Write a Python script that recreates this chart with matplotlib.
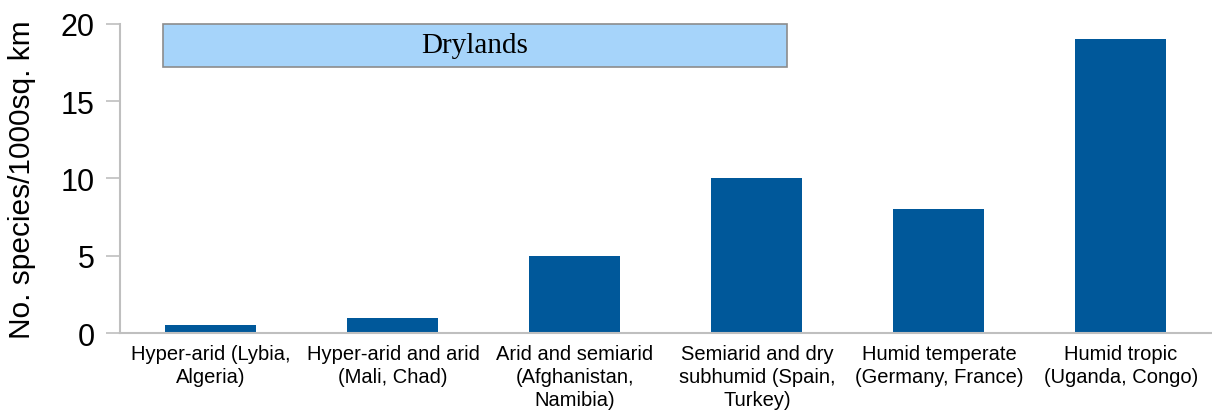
import matplotlib.pyplot as plt
from matplotlib.patches import Rectangle

categories = [
    "Hyper-arid (Lybia,\nAlgeria)",
    "Hyper-arid and arid\n(Mali, Chad)",
    "Arid and semiarid\n(Afghanistan,\nNamibia)",
    "Semiarid and dry\nsubhumid (Spain,\nTurkey)",
    "Humid temperate\n(Germany, France)",
    "Humid tropic\n(Uganda, Congo)",
]
species = [0.5, 1, 5, 10, 8, 19]

plt.rcParams["font.family"] = ["Liberation Sans", "DejaVu Sans"]

fig = plt.figure(figsize=(12.12, 4.14), dpi=100)
ax = fig.add_axes([0.099, 0.193, 0.901, 0.747])

x = range(len(categories))
ax.bar(x, species, width=0.5, color="#00589A", zorder=2)

ax.set_xlim(-0.5, len(categories) - 0.5)
ax.set_ylim(0, 20)
ax.set_yticks([0, 5, 10, 15, 20])
ax.set_xticks(list(x))
ax.set_xticklabels(categories, fontsize=14.5, linespacing=1.25)
ax.tick_params(axis="x", length=0, pad=8)
ax.tick_params(axis="y", labelsize=22, length=10, width=1.2, color="#BFBFBF", pad=8)
ax.set_ylabel("No. species/1000sq. km", fontsize=21.5, labelpad=18)

for side in ["top", "right"]:
    ax.spines[side].set_visible(False)
for side in ["left", "bottom"]:
    ax.spines[side].set_color("#BFBFBF")
    ax.spines[side].set_linewidth(1.5)

# drylands band
ax.add_patch(Rectangle((-0.264, 17.2), 3.43, 2.8, facecolor="#A6D4FA",
                       edgecolor="#8C8C8C", linewidth=1.2, zorder=3, clip_on=False))
ax.text(-0.264 + 3.43 / 2, 18.6, "Drylands", family="Liberation Serif",
        fontsize=21, ha="center", va="center", zorder=4)

plt.savefig("out.png", dpi=100)
